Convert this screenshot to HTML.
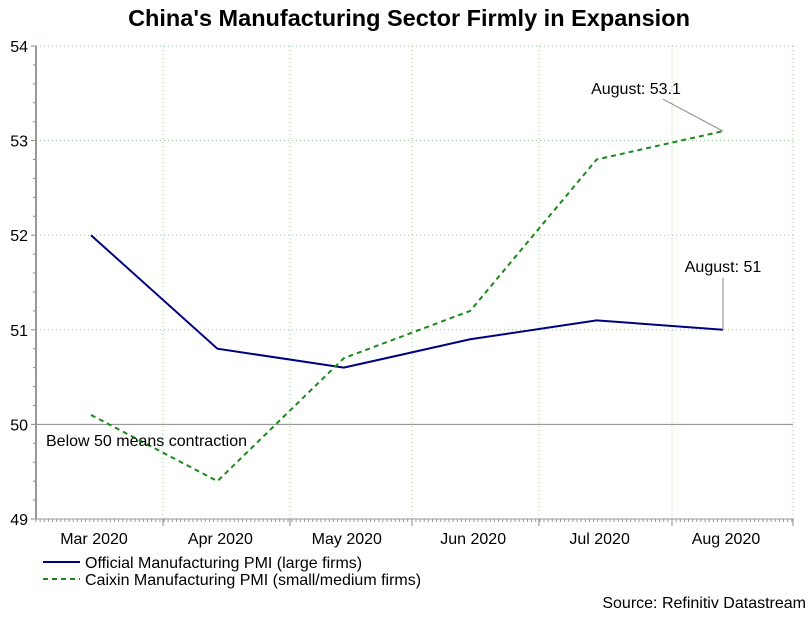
<!DOCTYPE html>
<html><head><meta charset="utf-8"><style>
body{margin:0;background:#fff;font-family:"Liberation Sans",sans-serif}
svg text{font-family:"Liberation Sans",sans-serif}
</style></head><body>
<svg width="812" height="613" viewBox="0 0 812 613">
<text x="409" y="26" text-anchor="middle" font-size="23.5" font-weight="bold" fill="#000">China's Manufacturing Sector Firmly in Expansion</text>
<g id="grid"></g>
<g id="axes"></g>
<g id="series"></g>
<text x="46" y="446" font-size="16" fill="#000">Below 50 means contraction</text>
<g>
<line x1="43" y1="562" x2="80" y2="562" stroke="#000080" stroke-width="2"/>
<text x="85" y="568" font-size="16">Official Manufacturing PMI (large firms)</text>
<line x1="43" y1="579" x2="80" y2="579" stroke="#1a8a1a" stroke-width="2" stroke-dasharray="5,4"/>
<text x="85" y="585" font-size="16">Caixin Manufacturing PMI (small/medium firms)</text>
</g>
<text x="806" y="608" text-anchor="end" font-size="16">Source: Refinitiv Datastream</text>
</svg>
<script>
const categories=["Mar 2020","Apr 2020","May 2020","Jun 2020","Jul 2020","Aug 2020"];
const officialPMI=[52.0,50.8,50.6,50.9,51.1,51.0];
const caixinPMI=[50.1,49.4,50.7,51.2,52.8,53.1];
const yTicks=[49,50,51,52,53,54];
const NS="http://www.w3.org/2000/svg";
const L=36,R=793,T=46,B=519,yMin=49,yMax=54;
const x0=91,step=126.4;
const xs=i=>x0+i*step;
const ys=v=>B-(v-yMin)/(yMax-yMin)*(B-T);
function mk(tag,attrs,parent){const e=document.createElementNS(NS,tag);for(const k in attrs)e.setAttribute(k,attrs[k]);parent.appendChild(e);return e;}
const grid=document.getElementById('grid'),axes=document.getElementById('axes'),ser=document.getElementById('series');
yTicks.forEach(t=>{
 const y=ys(t);
 if(t===50){const l=mk('line',{x1:L,x2:R,y1:y,y2:y,stroke:'#888','stroke-width':1},grid);}
 else if(t>yMin){const l=mk('line',{x1:L,x2:R,y1:y,y2:y,stroke:'#9c9','stroke-width':1,'stroke-dasharray':'1,3'},grid);}
 const tx=mk('text',{x:L-8,y:y+6,'text-anchor':'end','font-size':16},axes);tx.textContent=t;
 
 mk('line',{x1:L-5,x2:L,y1:y,y2:y,stroke:'#888'},axes);
 if(t<yMax)for(let k=1;k<5;k++){const yy=ys(t+k*0.2);mk('line',{x1:L-3,x2:L,y1:yy,y2:yy,stroke:'#888'},axes);}
});
[163,290,412,539,672,793].forEach(gx=>{const l=mk('line',{x1:gx,x2:gx,y1:T,y2:B,stroke:'#9c9','stroke-dasharray':'1,3'},grid);mk('line',{x1:gx,x2:gx,y1:B,y2:B+7,stroke:'#888'},axes);});
for(let x=L;x<=R;x+=4.13)mk('line',{x1:x,x2:x,y1:B,y2:B+3,stroke:'#999'},axes);
categories.forEach((c,i)=>{const tx=mk('text',{x:xs(i)+3,y:B+25,'text-anchor':'middle','font-size':16},axes);tx.textContent=c;});
const ya=mk('line',{x1:L,x2:L,y1:T,y2:B,stroke:'#999','stroke-width':2},axes);
const xa=mk('line',{x1:L,x2:R,y1:B,y2:B,stroke:'#999','stroke-width':1},axes);
const p1=mk('polyline',{points:officialPMI.map((v,i)=>xs(i)+','+ys(v)).join(' '),fill:'none',stroke:'#000080','stroke-width':2},ser);

const p2=mk('polyline',{points:caixinPMI.map((v,i)=>xs(i)+','+ys(v)).join(' '),fill:'none',stroke:'#1a8a1a','stroke-width':2,'stroke-dasharray':'5,4'},ser);

const n=categories.length-1;
const ax=xs(n),ay1=ys(officialPMI[n]),ay2=ys(caixinPMI[n]);
mk('line',{x1:ax,y1:ay1,x2:ax,y2:ay1-52,stroke:'#888'},ser);
const a1=mk('text',{x:ax,y:ay1-58,'text-anchor':'middle','font-size':16},ser);a1.textContent='August: '+officialPMI[n];

mk('line',{x1:ax,y1:ay2,x2:ax-60,y2:ay2-32,stroke:'#888'},ser);
const a2=mk('text',{x:ax-87,y:ay2-37,'text-anchor':'middle','font-size':16},ser);a2.textContent='August: '+caixinPMI[n];

</script>
</body></html>
